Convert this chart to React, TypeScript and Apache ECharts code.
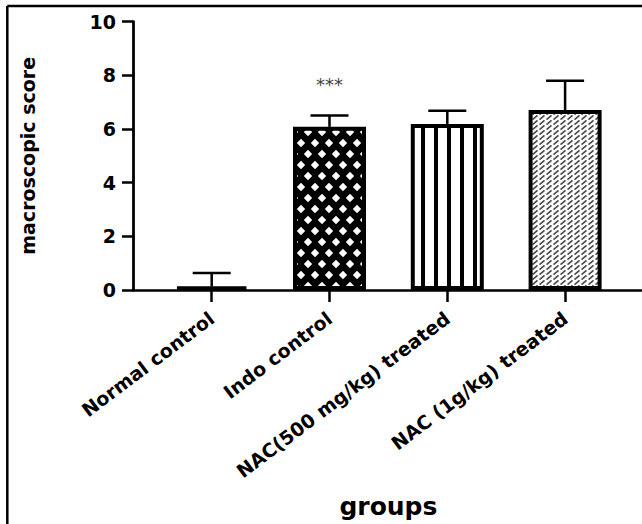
import React, { useEffect, useRef } from "react";
import * as echarts from "echarts";

const categories = ["Normal control", "Indo control", "NAC(500 mg/kg) treated", "NAC (1g/kg) treated"];
const means = [0.13, 6.08, 6.19, 6.71];
const sds = [0.5, 0.42, 0.49, 1.09];
const significance = ["", "***", "", ""];
const yTicks = { min: 0, max: 10, interval: 2 };

const FONT = "DejaVu Sans";

function makeDiamondPattern() {
  const w = 14, h = 22;
  const c = document.createElement("canvas");
  c.width = w; c.height = h;
  const ctx = c.getContext("2d")!;
  ctx.fillStyle = "#000";
  ctx.fillRect(0, 0, w, h);
  ctx.fillStyle = "#fff";
  const r = 4.2;
  const centers = [[0, 0], [w, 0], [0, h], [w, h], [w / 2, h / 2]];
  for (const [cx, cy] of centers) {
    ctx.beginPath();
    ctx.moveTo(cx, cy - r);
    ctx.lineTo(cx + r, cy);
    ctx.lineTo(cx, cy + r);
    ctx.lineTo(cx - r, cy);
    ctx.closePath();
    ctx.fill();
  }
  return c;
}

function makeStripePattern() {
  const w = 13, h = 4;
  const c = document.createElement("canvas");
  c.width = w; c.height = h;
  const ctx = c.getContext("2d")!;
  ctx.fillStyle = "#fff";
  ctx.fillRect(0, 0, w, h);
  ctx.fillStyle = "#000";
  ctx.fillRect(5, 0, 4, h);
  return c;
}

function makeHatchPattern() {
  const w = 7, h = 5;
  const c = document.createElement("canvas");
  c.width = w; c.height = h;
  const ctx = c.getContext("2d")!;
  ctx.fillStyle = "#fff";
  ctx.fillRect(0, 0, w, h);
  ctx.strokeStyle = "#4a4a4a";
  ctx.lineWidth = 1.7;
  ctx.beginPath();
  ctx.moveTo(0.5, 4.6);
  ctx.lineTo(5.5, 0.4);
  ctx.stroke();
  return c;
}

export default function App() {
  const ref = useRef<HTMLDivElement>(null);
  useEffect(() => {
    if (!ref.current) return;
    const chart = echarts.init(ref.current, null, { renderer: "svg" });
    const fills: any[] = [
      "#000",
      { image: makeDiamondPattern(), repeat: "repeat" },
      { image: makeStripePattern(), repeat: "repeat" },
      { image: makeHatchPattern(), repeat: "repeat" },
    ];
    const gridTop = 21.7;
    const gridBottom = 234;
    const option: any = {
      animation: false,
      backgroundColor: "#fff",
      textStyle: { fontFamily: FONT },
      grid: [
        { left: 152.8, right: 18, top: gridTop, bottom: gridBottom, containLabel: false },
        { left: 133, right: 0, top: gridTop, bottom: gridBottom, containLabel: false },
      ],
      xAxis: [
        {
          type: "category",
          gridIndex: 0,
          data: categories,
          axisLine: { show: false },
          axisTick: { show: true, alignWithLabel: true, length: 12, lineStyle: { color: "#000", width: 2.5 } },
          axisLabel: {
            rotate: 37,
            interval: 0,
            margin: 26,
            color: "#000",
            fontFamily: FONT,
            fontWeight: "bold",
            fontSize: 19,
          },
          name: "groups",
          nameLocation: "middle",
          nameGap: 204,
          nameTextStyle: { color: "#000", fontFamily: FONT, fontWeight: "bold", fontSize: 25 },
        },
        {
          type: "value",
          gridIndex: 1,
          min: 0,
          max: 1,
          axisLine: { show: true, lineStyle: { color: "#000", width: 2.5 } },
          axisTick: { show: false },
          axisLabel: { show: false },
          splitLine: { show: false },
        },
      ],
      yAxis: [
        {
          type: "value",
          gridIndex: 0,
          min: yTicks.min,
          max: yTicks.max,
          interval: yTicks.interval,
          offset: 19.8,
          axisLine: { show: true, lineStyle: { color: "#000", width: 2.8 } },
          axisTick: { show: true, length: 11, lineStyle: { color: "#000", width: 2.5 } },
          axisLabel: { margin: 17, color: "#000", fontFamily: FONT, fontWeight: "bold", fontSize: 19 },
          splitLine: { show: false },
          name: "macroscopic score",
          nameLocation: "middle",
          nameGap: 96,
          nameTextStyle: { color: "#000", fontFamily: FONT, fontWeight: "bold", fontSize: 19 },
        },
        { type: "value", gridIndex: 1, show: false, min: 0, max: 1 },
      ],
      series: [
        {
          type: "bar",
          xAxisIndex: 0,
          yAxisIndex: 0,
          barWidth: 73,
          data: means.map((v, i) => ({
            value: v,
            itemStyle: { color: fills[i], borderColor: "#000", borderWidth: 4 },
          })),
          z: 2,
        },
        {
          type: "custom",
          xAxisIndex: 0,
          yAxisIndex: 0,
          z: 3,
          data: means.map((m, i) => [i, m, sds[i]]),
          renderItem: (params: any, api: any) => {
            const i = api.value(0);
            const m = api.value(1);
            const sd = api.value(2);
            const base = api.coord([i, m]);
            const top = api.coord([i, m + sd]);
            const half = 19;
            const children: any[] = [
              {
                type: "line",
                shape: { x1: base[0], y1: base[1], x2: top[0], y2: top[1] },
                style: { stroke: "#000", lineWidth: 2.5 },
              },
              {
                type: "line",
                shape: { x1: top[0] - half, y1: top[1], x2: top[0] + half, y2: top[1] },
                style: { stroke: "#000", lineWidth: 2.5 },
              },
            ];
            const s = significance[params.dataIndex];
            if (s) {
              children.push({
                type: "text",
                x: top[0],
                y: top[1] - 31,
                style: {
                  text: s,
                  fill: "#444",
                  font: `18px "${FONT}"`,
                  textAlign: "center",
                  textVerticalAlign: "middle",
                },
              });
            }
            return { type: "group", children };
          },
        },
      ],
      graphic: [
        { type: "line", shape: { x1: 7.3, y1: 6, x2: 642, y2: 6 }, style: { stroke: "#000", lineWidth: 2.5 } },
        { type: "line", shape: { x1: 7.3, y1: 6, x2: 7.3, y2: 524 }, style: { stroke: "#000", lineWidth: 2.5 } },
      ],
    };
    chart.setOption(option);
    return () => chart.dispose();
  }, []);
  return <div ref={ref} style={{ position: "fixed", left: 0, top: 0, width: 642, height: 524 }} />;
}
